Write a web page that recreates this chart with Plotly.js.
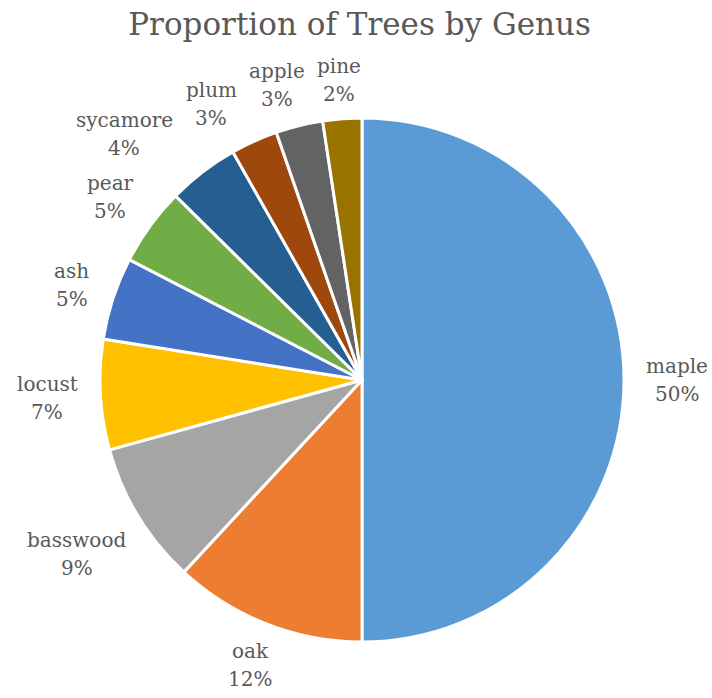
<!DOCTYPE html>
<html>
<head>
<meta charset="utf-8">
<script src="https://cdn.plot.ly/plotly-3.0.1.min.js"></script>
<style>html,body{margin:0;padding:0;background:#fff;}#chart{width:712px;height:698px;}</style>
</head>
<body>
<div id="chart"></div>
<script>
const genera = ["maple", "oak", "basswood", "locust", "ash", "pear", "sycamore", "plum", "apple", "pine"];
const shares = [50, 11.9, 8.8, 6.8, 5.1, 4.8, 4.4, 2.9, 2.9, 2.4];
const colors = ["#5B9BD5", "#ED7D31", "#A5A5A5", "#FFC000", "#4472C4", "#70AD47", "#255E91", "#9E480E", "#636363", "#997300"];

const W = 712, H = 698;
const CX = 362, CY = 380, R = 262;          // pie centre and radius in pixels
const LABEL_FONT = {family: "DejaVu Serif", size: 20, color: "#595959"};
const GAP = 22, RAD_H = 15, HALF_H = 24, PAD = 6, LINE = 14;

const trace = {
  type: "pie",
  labels: genera,
  values: shares,
  sort: false,
  direction: "clockwise",
  rotation: 0,
  marker: {colors: colors, line: {color: "#ffffff", width: 3}},
  textinfo: "none",
  hoverinfo: "none",
  automargin: false,
  domain: {x: [(CX - R) / W, (CX + R) / W], y: [(H - CY - R) / H, (H - CY + R) / H]}
};

// label placement outside each slice, computed from the data
const ctx = document.createElement("canvas").getContext("2d");
ctx.font = LABEL_FONT.size + "px '" + LABEL_FONT.family + "'";
const total = shares.reduce((a, b) => a + b, 0);
let cum = 0;
const boxes = genera.map((g, i) => {
  const frac = shares[i] / total;
  const pct = Math.round(frac * 100) + "%";
  const mid = (cum + frac / 2) * 2 * Math.PI;
  cum += frac;
  const sx = Math.sin(mid), sy = Math.cos(mid);
  const w = Math.max(ctx.measureText(g).width, ctx.measureText(pct).width);
  const d = R + GAP + Math.abs(sx) * w / 2 + Math.abs(sy) * RAD_H;
  return {g, pct, mid, w, x: CX + d * sx, y: CY - d * sy};
});
// resolve overlaps: walk counter-clockwise from the last slice, sliding left and slightly down
for (let i = boxes.length - 2; i >= 1; i--) {
  const b = boxes[i], p = boxes[i + 1];
  const tx = -1, ty = -0.5 * Math.sin(b.mid);
  let n = 0;
  while (n < 200 &&
         Math.abs(b.x - p.x) < b.w / 2 + p.w / 2 + 2 * PAD &&
         Math.abs(b.y - p.y) < 2 * HALF_H) {
    b.x += tx; b.y += ty; n++;
  }
}
const annotations = [];
boxes.forEach(b => {
  [[b.g, -LINE], [b.pct, LINE]].forEach(([t, off]) => {
    annotations.push({
      text: t, x: b.x / W, y: 1 - (b.y + off) / H, xref: "paper", yref: "paper",
      xanchor: "center", yanchor: "middle", showarrow: false, font: LABEL_FONT
    });
  });
});

const layout = {
  width: W, height: H,
  margin: {l: 0, r: 0, t: 0, b: 0},
  paper_bgcolor: "#ffffff",
  showlegend: false,
  annotations: annotations,
  title: {
    text: "Proportion of Trees by Genus",
    font: {family: "DejaVu Serif", size: 31, color: "#595959"},
    x: 0.505, xanchor: "center",
    y: 0.981, yanchor: "top", yref: "container"
  }
};

Plotly.newPlot("chart", [trace], layout, {displayModeBar: false, staticPlot: true});
</script>
</body>
</html>
